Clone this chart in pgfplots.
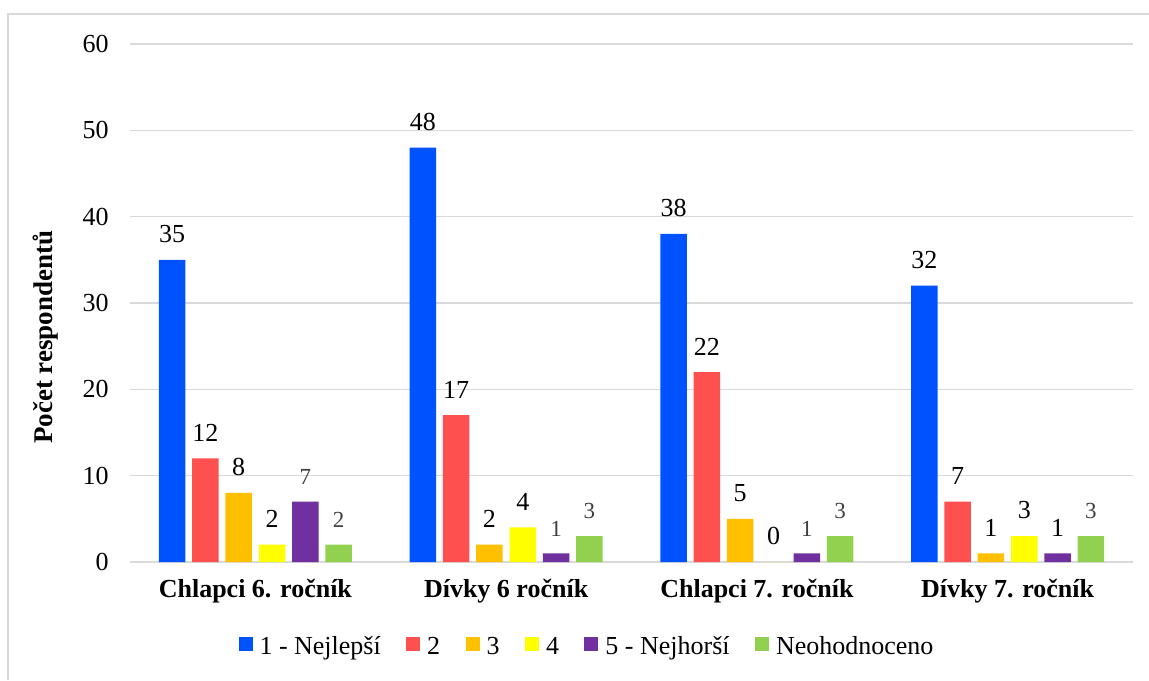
\documentclass[border=0pt]{standalone}
\usepackage{fontspec}
\setmainfont{Liberation Serif}
\usepackage{pgfplots}
\pgfplotsset{compat=1.18}
\usepackage{pgfplotstable}

\definecolor{c1}{HTML}{0052FF}
\definecolor{c2}{HTML}{FF5050}
\definecolor{c3}{HTML}{FFC000}
\definecolor{c4}{HTML}{FFFF00}
\definecolor{c5}{HTML}{7030A0}
\definecolor{c6}{HTML}{92D050}
\definecolor{gridgray}{HTML}{D9D9D9}
\definecolor{lblgray}{HTML}{404040}

% g5, g6: 1 = label set smaller in grey
\pgfplotstableread{
x y1 y2 y3 y4 y5 y6 g5 g6
0 35 12 8 2 7 2 1 1
1 48 17 2 4 1 3 1 1
2 38 22 5 0 1 3 1 1
3 32 7  1 3 1 3 0 1
}\data

\newcommand{\greylabel}{\ifdim\lblg pt>0.5pt\color{lblgray}\fontsize{11.5}{13}\selectfont\fi\pgfmathprintnumber{\pgfplotspointmeta}}

\begin{document}
\begin{tikzpicture}
\path[use as bounding box] (0,0) rectangle (574.5pt,340pt);
\draw[gridgray, line width=0.75pt] (4pt,0) -- (4pt,333pt) -- (574.5pt,333pt);
\begin{axis}[
  at={(65pt,59pt)}, anchor=south west,
  scale only axis, width=501.5pt, height=259pt,
  ybar=3.4pt, bar width=13.25pt,
  legend image code/.code={\fill[#1] (0pt,-2pt) rectangle (7pt,5pt);},
  xmin=-0.5, xmax=3.5, ymin=0, ymax=60,
  ytick={0,10,20,30,40,50,60},
  xtick={0,1,2,3},
  xticklabels={Chlapci 6. ročník, Dívky 6 ročník, Chlapci 7. ročník, Dívky 7. ročník},
  axis line style={draw=none},
  major tick length=0pt,
  ymajorgrids,
  grid style={draw=gridgray, line width=0.75pt},
  clip=false,
  /pgf/number format/assume math mode=true,
  xticklabel style={font=\bfseries\fontsize{13}{15}\selectfont, yshift=-5pt},
  yticklabel style={font=\fontsize{13}{15}\selectfont, xshift=-7.2pt},
  ylabel={Počet respondentů},
  ylabel style={font=\bfseries\fontsize{13.5}{16}\selectfont, at={(axis description cs:-0.084,0.434)}, anchor=center},
  nodes near coords,
  every node near coord/.append style={font=\fontsize{13}{15}\selectfont, yshift=5pt},
  legend columns=6,
  legend style={at={(axis description cs:0.4566,-0.164)}, anchor=center, draw=none, fill=none,
    font=\fontsize{13}{15}\selectfont,
    /tikz/every odd column/.style={column sep=1.5pt},
    /tikz/every even column/.style={column sep=10.7pt}},
]
\addplot[fill=c1, draw=none] table[x=x, y=y1]{\data};
\addplot[fill=c2, draw=none] table[x=x, y=y2]{\data};
\addplot[fill=c3, draw=none] table[x=x, y=y3]{\data};
\addplot[fill=c4, draw=none] table[x=x, y=y4]{\data};
\addplot[fill=c5, draw=none, visualization depends on={\thisrow{g5} \as \lblg}, nodes near coords={\greylabel}] table[x=x, y=y5]{\data};
\addplot[fill=c6, draw=none, visualization depends on={\thisrow{g6} \as \lblg}, nodes near coords={\greylabel}] table[x=x, y=y6]{\data};
\legend{1 - Nejlepší, 2, 3, 4, 5 - Nejhorší, Neohodnoceno}
\end{axis}
\end{tikzpicture}
\end{document}
